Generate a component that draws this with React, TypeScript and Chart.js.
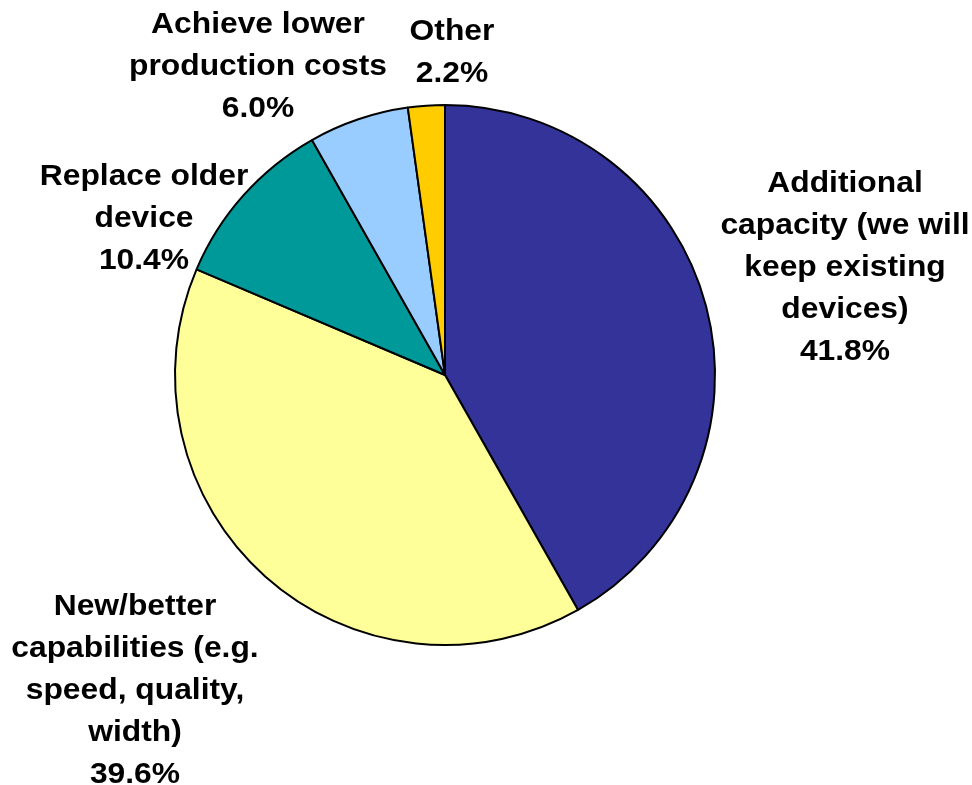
import React, { useEffect, useRef } from "react";
import { Chart, registerables } from "chart.js";

Chart.register(...registerables);

const categories = [
  "Additional capacity (we will keep existing devices)",
  "New/better capabilities (e.g. speed, quality, width)",
  "Replace older device",
  "Achieve lower production costs",
  "Other",
];
const values = [41.8, 39.6, 10.4, 6.0, 2.2];
const colors = ["#333399", "#FFFF99", "#009999", "#99CCFF", "#FFCC00"];
const labelLines = [
  ["Additional", "capacity (we will", "keep existing", "devices)"],
  ["New/better", "capabilities (e.g.", "speed, quality,", "width)"],
  ["Replace older", "device"],
  ["Achieve lower", "production costs"],
  ["Other"],
];
// label anchor offsets from pie center (px): center x, first-line middle y
const labelOffsets = [
  [400, -191],
  [-310, 232],
  [-301, -198],
  [-187, -350],
  [7, -343],
];

const labelPlugin = {
  id: "pieLabels",
  afterDatasetsDraw(chart: any) {
    const meta = chart.getDatasetMeta(0);
    const arc0 = meta.data[0];
    if (!arc0) return;
    const cx = arc0.x;
    const cy = arc0.y;
    const ctx = chart.ctx;
    const sx = 1.06;
    ctx.save();
    ctx.font = "bold 30px 'Liberation Sans', Arial, sans-serif";
    ctx.fillStyle = "#000000";
    ctx.textAlign = "center";
    ctx.textBaseline = "middle";
    const lh = 42;
    values.forEach((v, i) => {
      const lines = [...labelLines[i], v.toFixed(1) + "%"];
      const [dx, dy] = labelOffsets[i];
      lines.forEach((t, j) => {
        ctx.save();
        ctx.translate(cx + dx, cy + dy + j * lh);
        ctx.scale(sx, 1);
        ctx.fillText(t, 0, 0);
        ctx.restore();
      });
    });
    ctx.restore();
  },
};

export default function App() {
  const ref = useRef<HTMLCanvasElement>(null);
  useEffect(() => {
    if (!ref.current) return;
    const chart = new Chart(ref.current, {
      type: "pie",
      data: {
        labels: categories,
        datasets: [
          {
            data: values,
            backgroundColor: colors,
            borderColor: "#000000",
            borderWidth: 2,
          },
        ],
      },
      options: {
        responsive: false,
        animation: false,
        layout: { padding: { left: 174, right: 256, top: 104, bottom: 139 } },
        plugins: {
          legend: { display: false },
          tooltip: { enabled: false },
        },
      },
      plugins: [labelPlugin],
    });
    return () => chart.destroy();
  }, []);
  return (
    <div style={{ position: "absolute", left: 0, top: 0, width: 972, height: 785, background: "#ffffff" }}>
      <canvas ref={ref} width={972} height={785} style={{ width: 972, height: 785, display: "block" }} />
    </div>
  );
}
